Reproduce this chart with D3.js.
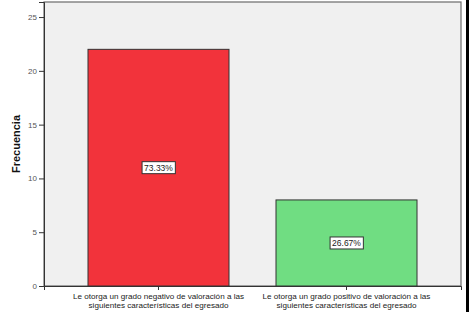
<!DOCTYPE html>
<html><head><meta charset="utf-8">
<script src="https://cdn.jsdelivr.net/npm/d3@7/dist/d3.min.js"></script>
<style>body{margin:0;background:#fff}svg{display:block}</style>
</head><body>
<script>
const categories = [
  ["Le otorga un grado negativo de valoración a las", "siguientes características del egresado"],
  ["Le otorga un grado positivo de valoración a las", "siguientes características del egresado"]
];
const values = [22, 8];
const percentLabels = ["73.33%", "26.67%"];
const barColors = ["#f2333b", "#70dd82"];
const yTicks = [0, 5, 10, 15, 20, 25];
const yTitle = "Frecuencia";

(function () {
const W = 469, H = 312;
const pL = 44, pR = 461, pT = 2, pB = 286;
const svg = d3.select("body").append("svg").attr("width", W).attr("height", H);

svg.append("rect").attr("x", 466).attr("y", 0).attr("width", 3).attr("height", H).attr("fill", "#000");

const y = d3.scaleLinear().domain([0, 26.4]).range([pB, pT]);
const x = d3.scaleBand().domain(d3.range(categories.length)).range([pL, pR]).paddingInner(0.25).paddingOuter(0.234);

svg.append("rect").attr("x", pL).attr("y", pT).attr("width", pR - pL).attr("height", pB - pT)
  .attr("fill", "#f0f0f0").attr("stroke", "#6b6b6b").attr("stroke-width", 1.2);

svg.selectAll(".bar").data(values).enter().append("rect")
  .attr("x", (d, i) => x(i)).attr("y", d => y(d))
  .attr("width", x.bandwidth()).attr("height", d => y(0) - y(d))
  .attr("fill", (d, i) => barColors[i]).attr("stroke", "#333").attr("stroke-width", 1);

const yAxis = svg.append("g").attr("transform", `translate(${pL},0)`)
  .call(d3.axisLeft(y).tickValues(yTicks).tickSize(5).tickPadding(2));
yAxis.select(".domain").attr("stroke", "#333");
yAxis.selectAll(".tick line").attr("stroke", "#333");
yAxis.selectAll("text").attr("font-family", "Arial, Liberation Sans, sans-serif").attr("font-size", 8).attr("fill", "#555");

const xAxis = svg.append("g").attr("transform", `translate(0,${pB})`)
  .call(d3.axisBottom(x).tickSize(4).tickFormat(""));
xAxis.select(".domain").attr("stroke", "#333");
xAxis.selectAll(".tick line").attr("stroke", "#333");

categories.forEach((lines, i) => {
  const cx = x(i) + x.bandwidth() / 2;
  const t = svg.append("text").attr("x", cx).attr("y", 299)
    .attr("text-anchor", "middle").attr("font-family", "Arial, Liberation Sans, sans-serif")
    .attr("font-size", 8.1).attr("fill", "#222");
  lines.forEach((l, k) => t.append("tspan").attr("x", cx).attr("dy", k ? 8.5 : 0).text(l));
});

values.forEach((v, i) => {
  const cx = x(i) + x.bandwidth() / 2, cy = (y(v) + y(0)) / 2;
  const g = svg.append("g");
  const txt = g.append("text").attr("x", cx).attr("y", cy + 3).attr("text-anchor", "middle")
    .attr("font-family", "Arial, Liberation Sans, sans-serif").attr("font-size", 8.5).attr("fill", "#222")
    .text(percentLabels[i]);
  const bb = txt.node().getBBox();
  g.insert("rect", "text").attr("x", bb.x - 2).attr("y", cy - 6).attr("width", bb.width + 4).attr("height", 12)
    .attr("fill", "#fff").attr("stroke", "#333").attr("stroke-width", 1);
});

svg.append("text").attr("transform", `translate(20,${(pT + pB) / 2}) rotate(-90)`)
  .attr("text-anchor", "middle").attr("font-family", "Arial, Liberation Sans, sans-serif")
  .attr("font-size", 11).attr("font-weight", "bold").attr("fill", "#111").text(yTitle);
})();
</script>
</body></html>
